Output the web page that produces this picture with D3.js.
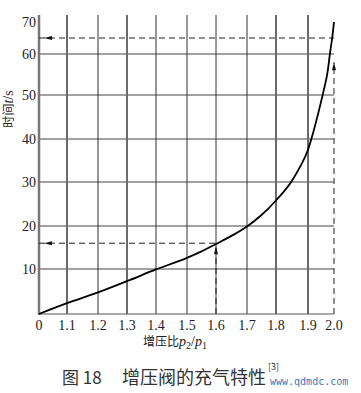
<!DOCTYPE html>
<html><head><meta charset="utf-8">
<script src="https://cdn.jsdelivr.net/npm/d3@7/dist/d3.min.js"></script>
<style>body{margin:0;background:#fff}svg{display:block}</style>
</head><body><svg id="c" width="361" height="393"></svg>
<script>
// ---- data ----
const xTickValues = [1.0,1.1,1.2,1.3,1.4,1.5,1.6,1.7,1.8,1.9,2.0];
const xTickLabels = ["0","1.1","1.2","1.3","1.4","1.5","1.6","1.7","1.8","1.9","2.0"];
const yTickValues = [10,20,30,40,50,60,70];
const yGridValues = [10,20,30,40,50,60];
const boldGrid = [1.1,1.3,1.8,1.9];
const curveX = [1.0,1.1,1.2,1.3,1.4,1.5,1.55,1.6,1.65,1.7,1.75,1.8,1.85,1.875,1.9,1.92,1.94,1.96,1.975,1.985,1.993,2.0];
const curveT = [0,2.4,4.8,7.3,9.9,12.6,14.1,15.8,17.7,19.9,22.5,25.8,30.3,33.5,37.5,41.5,46,51,55.5,60.5,65,70];
const guide1 = {p:1.6, t:16};
const guide2 = {p:2.0, t:65, tUp:58};

// ---- scales ----
const svg = d3.select("#c");
const x = d3.scaleLinear().domain(xTickValues).range([39,67,98,127,156,187,216,247,276,308,334]);
const y = d3.scaleLinear().domain([0,10,20,30,40,50,60,70]).range([314,269,226,182,139,95,54,22]);

const g = svg.append("g");
// horizontal grid
g.selectAll(".hg").data(yGridValues).join("line")
  .attr("x1", x(1.0)).attr("x2", x(2.0))
  .attr("y1", d=>y(d)).attr("y2", d=>y(d))
  .attr("stroke","#444").attr("stroke-width",1);
// vertical grid
g.selectAll(".vg").data(xTickValues.filter(v=>v>1.0 && v<2.0)).join("line")
  .attr("x1", d=>x(d)).attr("x2", d=>x(d))
  .attr("y1", y(0)).attr("y2", 15)
  .attr("stroke", d=>boldGrid.includes(d)?"#6a6a6a":"#333")
  .attr("stroke-width", d=>boldGrid.includes(d)?2:1);
// x axis line
g.append("line").attr("x1",x(1.0)).attr("x2",x(2.0)).attr("y1",y(0)).attr("y2",y(0))
  .attr("stroke","#555").attr("stroke-width",1.2);
// y axis line
g.append("line").attr("x1",x(1.0)).attr("x2",x(1.0)).attr("y1",y(0)+1).attr("y2",15)
  .attr("stroke","#777").attr("stroke-width",2.5);

// dashed guides
const dash = "6,4";
g.append("line").attr("x1",x(1.0)).attr("x2",x(guide1.p)).attr("y1",y(guide1.t)).attr("y2",y(guide1.t))
  .attr("stroke","#222").attr("stroke-width",1).attr("stroke-dasharray",dash);
g.append("line").attr("x1",x(guide1.p)).attr("x2",x(guide1.p)).attr("y1",y(0)).attr("y2",y(guide1.t)+4)
  .attr("stroke","#222").attr("stroke-width",1).attr("stroke-dasharray",dash);
g.append("line").attr("x1",x(1.0)).attr("x2",x(guide2.p)).attr("y1",y(guide2.t)).attr("y2",y(guide2.t))
  .attr("stroke","#222").attr("stroke-width",1).attr("stroke-dasharray",dash);
g.append("line").attr("x1",x(guide2.p)).attr("x2",x(guide2.p)).attr("y1",y(0)).attr("y2",y(guide2.tUp))
  .attr("stroke","#222").attr("stroke-width",1).attr("stroke-dasharray",dash);

// arrowheads
function arrowLeft(px,py){ return `M${px},${py} L${px+8},${py-2} L${px+8},${py+2} Z`; }
function arrowUp(px,py){ return `M${px},${py} L${px-2},${py+8} L${px+2},${py+8} Z`; }
g.append("path").attr("d",arrowLeft(x(1.0)+5,y(guide1.t))).attr("fill","#111");
g.append("path").attr("d",arrowLeft(x(1.0)+5,y(guide2.t))).attr("fill","#111");
g.append("path").attr("d",arrowUp(x(guide1.p),y(guide1.t)+3)).attr("fill","#111");
g.append("path").attr("d",arrowUp(x(guide2.p),y(guide2.tUp))).attr("fill","#111");

// curve
const pts = curveX.map((v,i)=>[v,curveT[i]]);
g.append("path").datum(pts)
  .attr("d", d3.line().x(d=>x(d[0])).y(d=>y(d[1])).curve(d3.curveMonotoneX))
  .attr("fill","none").attr("stroke","#000").attr("stroke-width",1.8);

// tick labels
const serif = "'Liberation Serif','DejaVu Serif',serif";
g.selectAll(".xl").data(xTickValues).join("text")
  .attr("x", d=>x(d)).attr("y", 330)
  .attr("text-anchor","middle").attr("font-family",serif).attr("font-size",14).attr("fill","#222")
  .text((d,i)=>xTickLabels[i]);
g.selectAll(".yl").data(yTickValues).join("text")
  .attr("x", 36).attr("y", d=>y(d)+5)
  .attr("text-anchor","end").attr("font-family",serif).attr("font-size",14).attr("fill","#222")
  .text(d=>d);

// axis titles
const cjk = "'Noto Sans CJK SC','Noto Sans',sans-serif";
const xt = g.append("text").attr("x",143).attr("y",346).attr("font-family",cjk).attr("font-size",12).attr("fill","#222");
xt.append("tspan").text("增压比");
xt.append("tspan").attr("font-family",serif).attr("font-style","italic").attr("font-size",14).text("p");
xt.append("tspan").attr("font-family",serif).attr("font-size",10).attr("dy",3).text("2");
xt.append("tspan").attr("font-family",serif).attr("font-size",14).attr("dy",-3).text("/");
xt.append("tspan").attr("font-family",serif).attr("font-style","italic").attr("font-size",14).text("p");
xt.append("tspan").attr("font-family",serif).attr("font-size",10).attr("dy",3).text("1");

const yt = g.append("text").attr("transform","translate(13,109) rotate(-90)")
  .attr("text-anchor","middle").attr("font-family",cjk).attr("font-size",12).attr("fill","#222");
yt.append("tspan").text("时间");
yt.append("tspan").attr("font-family",serif).attr("font-style","italic").attr("font-size",14).text("t");
yt.append("tspan").attr("font-family",serif).attr("font-size",14).text("/s");

// caption
g.append("text").attr("x",62).attr("y",384).attr("font-family",cjk).attr("font-size",17).attr("fill","#333").text("图 18");
g.append("text").attr("x",122).attr("y",384).attr("font-family",cjk).attr("font-size",18).attr("fill","#333").text("增压阀的充气特性");
g.append("text").attr("x",268).attr("y",370).attr("font-family",cjk).attr("font-size",9).attr("fill","#333").text("[3]");
g.append("text").attr("x",270).attr("y",385).attr("font-family","'DejaVu Sans Mono',monospace").attr("font-size",10).attr("fill","#3a78b8").text("www.qdmdc.com");
</script></body></html>
